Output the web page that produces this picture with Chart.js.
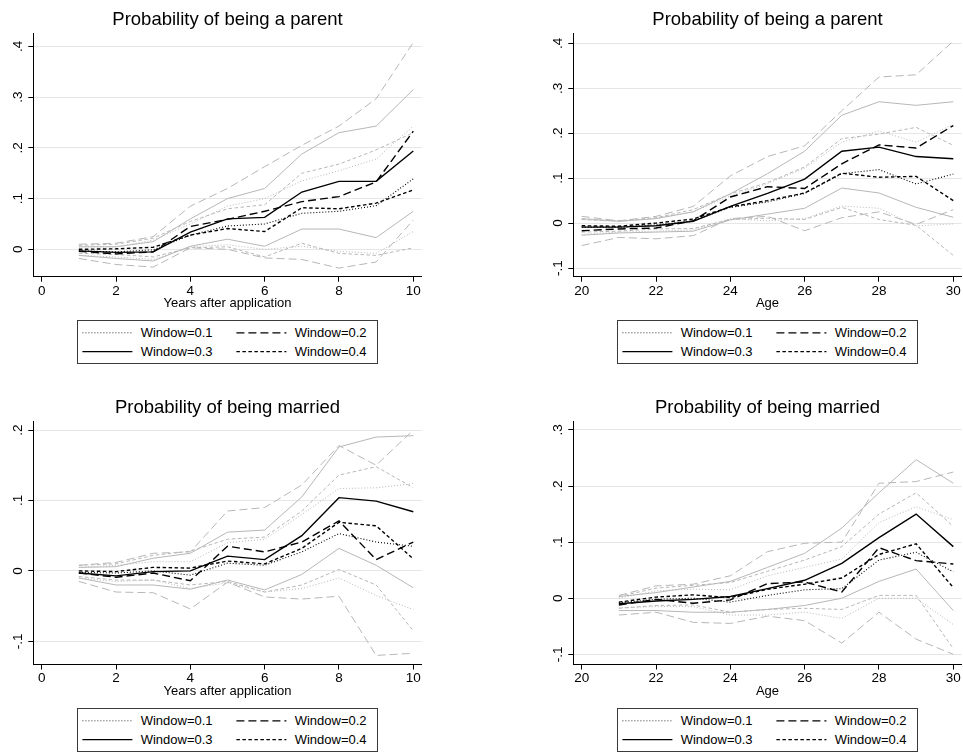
<!DOCTYPE html>
<html>
<head>
<meta charset="utf-8">
<script src="https://cdn.jsdelivr.net/npm/chart.js@4.4.1/dist/chart.umd.min.js"></script>
<style>
  html, body { margin: 0; padding: 0; background: #fff; }
  body { position: relative; width: 963px; height: 754px; overflow: hidden;
         font-family: "Liberation Sans", Arial, Helvetica, sans-serif; color: #000; }
  .panel-title { position: absolute; width: 420px; text-align: center; white-space: nowrap;
                 font-size: 18.5px; line-height: 18.5px; }
  canvas { position: absolute; }
  .legend { position: absolute; width: 301px; height: 44px; box-sizing: border-box;
            border: 1px solid #3a3a3a; background: #fff; }
  .legend svg { position: absolute; left: -1px; top: -1px; overflow: visible; }
  .legend text { font-family: "Liberation Sans", Arial, Helvetica, sans-serif; font-size: 13px; fill: #000; }
</style>
</head>
<body>
<script>
// ---- x values and axis ticks ----
const yearsAfter   = [1, 2, 3, 4, 5, 6, 7, 8, 9, 10];
const agesParent   = [20, 21, 22, 23, 24, 25, 26, 27, 28, 29, 30];
const agesMarried  = [21, 22, 23, 24, 25, 26, 27, 28, 29, 30];
const yearTicks    = [0, 2, 4, 6, 8, 10];
const ageTicks     = [20, 22, 24, 26, 28, 30];

const parentYearsTickValues  = [0, 0.1, 0.2, 0.3, 0.4];
const parentYearsTickLabels  = ['0', '.1', '.2', '.3', '.4'];
const parentAgeTickValues    = [-0.1, 0, 0.1, 0.2, 0.3, 0.4];
const parentAgeTickLabels    = ['-.1', '0', '.1', '.2', '.3', '.4'];
const marriedYearsTickValues = [-0.1, 0, 0.1, 0.2];
const marriedYearsTickLabels = ['-.1', '0', '.1', '.2'];
const marriedAgeTickValues   = [-0.1, 0, 0.1, 0.2, 0.3];
const marriedAgeTickLabels   = ['-.1', '0', '.1', '.2', '.3'];

const windowLabels = ['Window=0.1', 'Window=0.2', 'Window=0.3', 'Window=0.4'];

// ---- Probability of being a parent, by years after application ----
const parentYears_w1    = [-0.003, -0.005, -0.001, 0.028, 0.046, 0.050, 0.071, 0.075, 0.086, 0.139];
const parentYears_w1_hi = [0.005, 0.005, 0.018, 0.050, 0.085, 0.100, 0.135, 0.155, 0.178, 0.243];
const parentYears_w1_lo = [-0.012, -0.015, -0.020, 0.005, 0.009, 0.000, 0.006, -0.004, -0.008, 0.035];
const parentYears_w2    = [-0.004, -0.009, -0.005, 0.045, 0.059, 0.075, 0.094, 0.104, 0.133, 0.233];
const parentYears_w2_hi = [0.010, 0.012, 0.025, 0.085, 0.120, 0.163, 0.205, 0.243, 0.297, 0.408];
const parentYears_w2_lo = [-0.018, -0.030, -0.035, 0.003, 0.000, -0.017, -0.020, -0.037, -0.025, 0.058];
const parentYears_w3    = [-0.003, -0.006, -0.005, 0.034, 0.060, 0.063, 0.113, 0.134, 0.134, 0.194];
const parentYears_w3_hi = [0.005, 0.005, 0.015, 0.060, 0.100, 0.120, 0.188, 0.230, 0.243, 0.315];
const parentYears_w3_lo = [-0.012, -0.018, -0.023, 0.006, 0.020, 0.006, 0.040, 0.040, 0.023, 0.075];
const parentYears_w4    = [0.000, 0.001, 0.004, 0.028, 0.041, 0.035, 0.082, 0.080, 0.091, 0.117];
const parentYears_w4_hi = [0.008, 0.010, 0.022, 0.055, 0.080, 0.088, 0.150, 0.168, 0.196, 0.230];
const parentYears_w4_lo = [-0.008, -0.010, -0.015, 0.003, 0.005, -0.015, 0.012, -0.008, -0.012, 0.003];

// ---- Probability of being a parent, by age ----
const parentAge_w1    = [-0.009, -0.009, -0.004, 0.005, 0.035, 0.047, 0.066, 0.110, 0.119, 0.087, 0.109];
const parentAge_w1_hi = [0.008, 0.003, 0.010, 0.025, 0.060, 0.088, 0.122, 0.180, 0.205, 0.180, 0.220];
const parentAge_w1_lo = [-0.025, -0.020, -0.018, -0.015, 0.010, 0.005, 0.010, 0.038, 0.033, -0.006, -0.002];
const parentAge_w2    = [-0.017, -0.013, -0.011, 0.005, 0.058, 0.081, 0.077, 0.132, 0.174, 0.167, 0.217];
const parentAge_w2_hi = [0.015, 0.005, 0.015, 0.037, 0.105, 0.148, 0.172, 0.250, 0.325, 0.330, 0.405];
const parentAge_w2_lo = [-0.050, -0.032, -0.035, -0.028, 0.010, 0.015, -0.017, 0.012, 0.025, -0.003, 0.030];
const parentAge_w3    = [-0.009, -0.009, -0.006, 0.004, 0.037, 0.066, 0.098, 0.160, 0.169, 0.148, 0.143];
const parentAge_w3_hi = [0.010, 0.004, 0.010, 0.025, 0.065, 0.110, 0.160, 0.240, 0.270, 0.262, 0.270];
const parentAge_w3_lo = [-0.027, -0.022, -0.020, -0.018, 0.007, 0.020, 0.033, 0.078, 0.067, 0.035, 0.013];
const parentAge_w4    = [-0.006, -0.007, 0.000, 0.009, 0.036, 0.050, 0.067, 0.111, 0.102, 0.104, 0.050];
const parentAge_w4_hi = [0.008, 0.005, 0.012, 0.030, 0.065, 0.090, 0.125, 0.188, 0.198, 0.213, 0.173];
const parentAge_w4_lo = [-0.020, -0.018, -0.013, -0.012, 0.008, 0.011, 0.008, 0.035, 0.008, -0.005, -0.072];

// ---- Probability of being married, by years after application ----
const marriedYears_w1    = [-0.002, -0.003, 0.000, -0.006, 0.011, 0.008, 0.027, 0.053, 0.041, 0.035];
const marriedYears_w1_hi = [0.005, 0.008, 0.013, 0.013, 0.040, 0.045, 0.080, 0.117, 0.118, 0.124];
const marriedYears_w1_lo = [-0.010, -0.015, -0.013, -0.025, -0.017, -0.030, -0.025, -0.010, -0.035, -0.055];
const marriedYears_w2    = [-0.003, -0.009, -0.003, -0.014, 0.035, 0.027, 0.041, 0.071, 0.016, 0.041];
const marriedYears_w2_hi = [0.008, 0.012, 0.025, 0.027, 0.085, 0.090, 0.122, 0.178, 0.150, 0.200];
const marriedYears_w2_lo = [-0.015, -0.030, -0.031, -0.054, -0.016, -0.037, -0.040, -0.036, -0.120, -0.117];
const marriedYears_w3    = [-0.003, -0.007, -0.001, 0.000, 0.021, 0.016, 0.050, 0.104, 0.099, 0.084];
const marriedYears_w3_hi = [0.005, 0.006, 0.018, 0.025, 0.055, 0.058, 0.105, 0.176, 0.190, 0.192];
const marriedYears_w3_lo = [-0.010, -0.020, -0.020, -0.026, -0.013, -0.027, -0.005, 0.032, 0.008, -0.024];
const marriedYears_w4    = [0.000, -0.001, 0.005, 0.004, 0.014, 0.010, 0.032, 0.069, 0.064, 0.017];
const marriedYears_w4_hi = [0.008, 0.010, 0.022, 0.028, 0.045, 0.048, 0.085, 0.136, 0.148, 0.118];
const marriedYears_w4_lo = [-0.008, -0.013, -0.013, -0.020, -0.015, -0.030, -0.020, 0.002, -0.020, -0.085];

// ---- Probability of being married, by age ----
const marriedAge_w1    = [-0.008, -0.002, 0.000, -0.007, 0.005, 0.015, 0.017, 0.068, 0.082, 0.047];
const marriedAge_w1_hi = [0.000, 0.013, 0.016, 0.015, 0.040, 0.055, 0.070, 0.135, 0.163, 0.140];
const marriedAge_w1_lo = [-0.017, -0.015, -0.015, -0.030, -0.030, -0.025, -0.036, 0.000, 0.000, -0.047];
const marriedAge_w2    = [-0.012, -0.002, -0.009, -0.003, 0.026, 0.029, 0.011, 0.090, 0.067, 0.061];
const marriedAge_w2_hi = [0.005, 0.022, 0.025, 0.040, 0.083, 0.098, 0.100, 0.205, 0.208, 0.225];
const marriedAge_w2_lo = [-0.030, -0.025, -0.043, -0.045, -0.032, -0.040, -0.080, -0.025, -0.073, -0.100];
const marriedAge_w3    = [-0.010, -0.005, -0.002, 0.003, 0.017, 0.032, 0.062, 0.108, 0.150, 0.092];
const marriedAge_w3_hi = [0.003, 0.010, 0.020, 0.030, 0.055, 0.080, 0.125, 0.188, 0.247, 0.205];
const marriedAge_w3_lo = [-0.022, -0.022, -0.025, -0.025, -0.020, -0.013, 0.000, 0.030, 0.052, -0.022];
const marriedAge_w4    = [-0.007, 0.002, 0.006, 0.001, 0.016, 0.025, 0.036, 0.078, 0.097, 0.019];
const marriedAge_w4_hi = [0.003, 0.018, 0.023, 0.028, 0.048, 0.068, 0.092, 0.150, 0.188, 0.128];
const marriedAge_w4_lo = [-0.018, -0.013, -0.012, -0.025, -0.020, -0.018, -0.020, 0.005, 0.005, -0.090];

// ---- styling ----
const FONT = '"Liberation Sans", Arial, Helvetica, sans-serif';
const POINT_COLOR = '#000000';
const BAND_COLOR = '#b7b7b7';
const GRID_COLOR = '#e6e6e6';
// line patterns for the four bandwidth windows (0.1 dotted, 0.2 long dash, 0.3 solid, 0.4 short dash)
const windowDashes = [[1, 2], [8, 4], [], [3.5, 2.5]];

// plot-area geometry of the four panels (page pixels)
const PLOT_W = 388.4, PLOT_H = 243.4;
const AXIS_Y_W = 33.3, AXIS_X_H = 41.3, PAD_RIGHT = 18.3;

const panels = [
  {
    title: 'Probability of being a parent', xTitle: 'Years after application',
    plotLeft: 33.3, plotTop: 33.3,
    x: yearsAfter, xTicks: yearTicks, xMin: -0.226, xMax: 10.226,
    yTicks: parentYearsTickValues, yLabels: parentYearsTickLabels, yMin: -0.054, yMax: 0.426, yPad: 4.8,
    series: [
      [parentYears_w1, parentYears_w1_lo, parentYears_w1_hi],
      [parentYears_w2, parentYears_w2_lo, parentYears_w2_hi],
      [parentYears_w3, parentYears_w3_lo, parentYears_w3_hi],
      [parentYears_w4, parentYears_w4_lo, parentYears_w4_hi]
    ]
  },
  {
    title: 'Probability of being a parent', xTitle: 'Age',
    plotLeft: 573.3, plotTop: 33.3,
    x: agesParent, xTicks: ageTicks, xMin: 19.774, xMax: 30.226,
    yTicks: parentAgeTickValues, yLabels: parentAgeTickLabels, yMin: -0.1193, yMax: 0.4223, yPad: 2.5,
    series: [
      [parentAge_w1, parentAge_w1_lo, parentAge_w1_hi],
      [parentAge_w2, parentAge_w2_lo, parentAge_w2_hi],
      [parentAge_w3, parentAge_w3_lo, parentAge_w3_hi],
      [parentAge_w4, parentAge_w4_lo, parentAge_w4_hi]
    ]
  },
  {
    title: 'Probability of being married', xTitle: 'Years after application',
    plotLeft: 33.3, plotTop: 421.1,
    x: yearsAfter, xTicks: yearTicks, xMin: -0.226, xMax: 10.226,
    yTicks: marriedYearsTickValues, yLabels: marriedYearsTickLabels, yMin: -0.1329, yMax: 0.2127, yPad: 2.5,
    series: [
      [marriedYears_w1, marriedYears_w1_lo, marriedYears_w1_hi],
      [marriedYears_w2, marriedYears_w2_lo, marriedYears_w2_hi],
      [marriedYears_w3, marriedYears_w3_lo, marriedYears_w3_hi],
      [marriedYears_w4, marriedYears_w4_lo, marriedYears_w4_hi]
    ]
  },
  {
    title: 'Probability of being married', xTitle: 'Age',
    plotLeft: 573.3, plotTop: 421.1,
    x: agesMarried, xTicks: ageTicks, xMin: 19.774, xMax: 30.226,
    yTicks: marriedAgeTickValues, yLabels: marriedAgeTickLabels, yMin: -0.1182, yMax: 0.3158, yPad: 2.5,
    series: [
      [marriedAge_w1, marriedAge_w1_lo, marriedAge_w1_hi],
      [marriedAge_w2, marriedAge_w2_lo, marriedAge_w2_hi],
      [marriedAge_w3, marriedAge_w3_lo, marriedAge_w3_hi],
      [marriedAge_w4, marriedAge_w4_lo, marriedAge_w4_hi]
    ]
  }
];

function toPoints(xs, ys) {
  return xs.map((x, i) => ({ x: x, y: ys[i] }));
}

function buildDatasets(p) {
  const estimates = [], bands = [];
  p.series.forEach((s, w) => {
    const dash = windowDashes[w];
    estimates.push({
      label: windowLabels[w], data: toPoints(p.x, s[0]),
      borderColor: POINT_COLOR, borderWidth: w === 0 ? 1.1 : 1.4, borderDash: dash,
      pointRadius: 0, tension: 0, fill: false, order: 0
    });
    [s[1], s[2]].forEach(band => {
      bands.push({
        label: windowLabels[w] + ' CI', data: toPoints(p.x, band),
        borderColor: BAND_COLOR, borderWidth: 1, borderDash: dash,
        pointRadius: 0, tension: 0, fill: false, order: 1
      });
    });
  });
  return estimates.concat(bands);
}

function drawPanel(p) {
  // canvas sits on whole pixels; the plot area is placed inside it through the padding
  const canvasLeft = Math.round(p.plotLeft - AXIS_Y_W);
  const canvasTop = Math.floor(p.plotTop - 20);
  const padTop = p.plotTop - canvasTop;
  const yAxisW = p.plotLeft - canvasLeft;
  const W = Math.ceil(yAxisW + PLOT_W + PAD_RIGHT);
  const H = Math.round(padTop + PLOT_H + AXIS_X_H);
  const xAxisH = H - padTop - PLOT_H;
  const padRight = W - yAxisW - PLOT_W;

  const canvas = document.createElement('canvas');
  canvas.width = W; canvas.height = H;
  canvas.style.left = canvasLeft + 'px';
  canvas.style.top = canvasTop + 'px';
  canvas.style.width = W + 'px'; canvas.style.height = H + 'px';
  document.body.appendChild(canvas);

  new Chart(canvas.getContext('2d'), {
    type: 'line',
    data: { datasets: buildDatasets(p) },
    options: {
      animation: false, responsive: false, devicePixelRatio: 1,
      layout: { padding: { left: 0, top: padTop, right: padRight, bottom: 0 } },
      plugins: { legend: { display: false }, tooltip: { enabled: false }, title: { display: false } },
      scales: {
        x: {
          type: 'linear', min: p.xMin, max: p.xMax,
          afterBuildTicks: sc => { sc.ticks = p.xTicks.map(v => ({ value: v })); },
          afterFit: sc => { sc.height = xAxisH; },
          grid: { drawOnChartArea: false, tickLength: 5, tickColor: '#000', tickWidth: 1 },
          border: { display: true, color: '#000', width: 1 },
          ticks: { font: { family: FONT, size: 13.5 }, color: '#000', padding: 1,
                   maxRotation: 0, minRotation: 0, autoSkip: false },
          title: { display: true, text: p.xTitle, color: '#000',
                   font: { family: FONT, size: 13 }, padding: { top: 0, bottom: 7 } }
        },
        y: {
          type: 'linear', min: p.yMin, max: p.yMax,
          afterBuildTicks: sc => { sc.ticks = p.yTicks.map(v => ({ value: v })); },
          afterFit: sc => { sc.width = yAxisW; },
          grid: { color: GRID_COLOR, lineWidth: 1, tickLength: 5, tickColor: '#000', tickWidth: 1 },
          border: { display: true, color: '#000', width: 1 },
          ticks: { font: { family: FONT, size: 13.5 }, color: '#000', padding: p.yPad,
                   minRotation: 90, maxRotation: 90, crossAlign: 'center', autoSkip: false,
                   callback: (v, i) => p.yLabels[i] }
        }
      }
    }
  });

  // panel title, centred over the plot area
  const t = document.createElement('div');
  t.className = 'panel-title';
  t.textContent = p.title;
  t.style.left = (p.plotLeft + PLOT_W / 2 - 210) + 'px';
  t.style.top = (p.plotTop - 23) + 'px';
  document.body.appendChild(t);

  // two-column legend box under the axis title
  const lg = document.createElement('div');
  lg.className = 'legend';
  lg.style.left = (p.plotLeft + PLOT_W / 2 - 150.5) + 'px';
  lg.style.top = (p.plotTop + PLOT_H + 43.3) + 'px';
  const ns = 'http://www.w3.org/2000/svg';
  const svg = document.createElementNS(ns, 'svg');
  svg.setAttribute('width', '301'); svg.setAttribute('height', '44');
  const cols = [5.4, 159.4], rows = [12.8, 31.6];
  windowLabels.forEach((label, w) => {
    const cx = cols[w % 2], cy = rows[Math.floor(w / 2)];
    const ln = document.createElementNS(ns, 'line');
    ln.setAttribute('x1', cx); ln.setAttribute('x2', cx + 50);
    ln.setAttribute('y1', cy); ln.setAttribute('y2', cy);
    ln.setAttribute('stroke', '#000');
    ln.setAttribute('stroke-width', w === 0 ? '0.8' : '1.2');
    if (windowDashes[w].length) ln.setAttribute('stroke-dasharray', windowDashes[w].join(' '));
    svg.appendChild(ln);
    const tx = document.createElementNS(ns, 'text');
    tx.setAttribute('x', cx + 58.3); tx.setAttribute('y', cy + 4.6);
    tx.textContent = label;
    svg.appendChild(tx);
  });
  lg.appendChild(svg);
  document.body.appendChild(lg);
}

panels.forEach(drawPanel);
</script>
</body>
</html>
